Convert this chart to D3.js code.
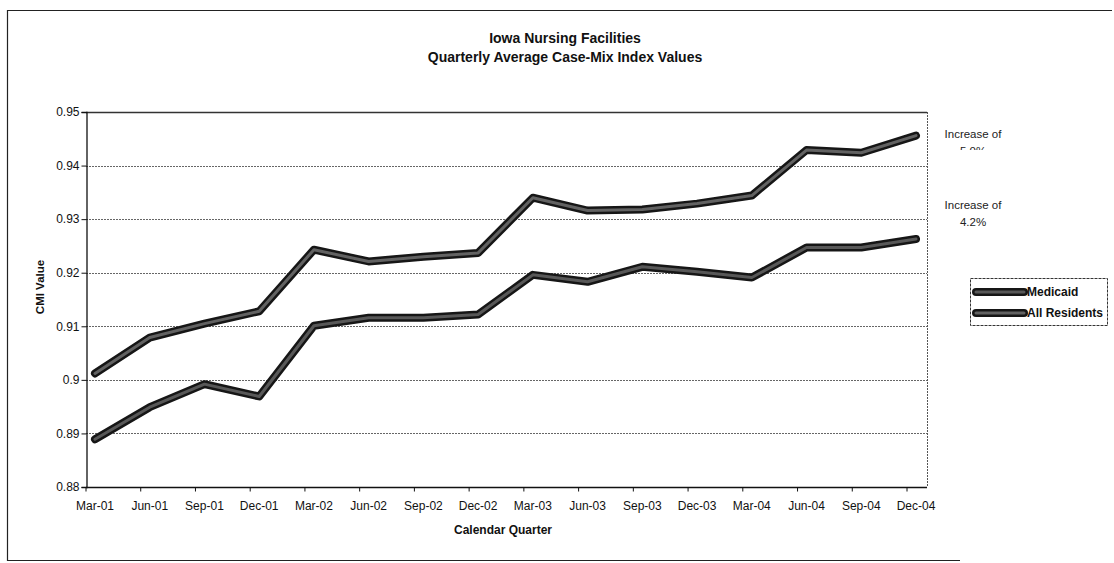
<!DOCTYPE html>
<html>
<head>
<meta charset="utf-8">
<script src="https://cdn.jsdelivr.net/npm/d3@7"></script>
<style>
  html, body { margin: 0; padding: 0; background: #fff; }
  svg { display: block; font-family: Arial, "Liberation Sans", sans-serif; }
</style>
</head>
<body>
<svg id="chart" width="1114" height="563"></svg>
<script>
// Quarterly average case-mix index, Iowa nursing facilities
const quarters = ["Mar-01","Jun-01","Sep-01","Dec-01","Mar-02","Jun-02","Sep-02","Dec-02",
                  "Mar-03","Jun-03","Sep-03","Dec-03","Mar-04","Jun-04","Sep-04","Dec-04"];
const medicaid = [0.8889,0.8949,0.8992,0.8969,0.9101,0.9116,0.9116,0.9122,
                  0.9196,0.9183,0.9211,0.9202,0.9191,0.9247,0.9247,0.9263];
const allResidents = [0.9012,0.9079,0.9105,0.9128,0.9243,0.9221,0.9230,0.9237,
                      0.9340,0.9316,0.9318,0.9329,0.9344,0.9429,0.9424,0.9456];
const yTicks = [0.88,0.89,0.9,0.91,0.92,0.93,0.94,0.95];
const seriesNames = ["Medicaid","All Residents"];
const notes = [["Increase of","5.0%"],["Increase of","4.2%"]];

const svg = d3.select("#chart");
const plot = {left: 86, right: 927, top: 112, bottom: 487};

const x = d3.scalePoint().domain(quarters).range([95, 916]);
const y = d3.scaleLinear().domain([0.88, 0.95]).range([plot.bottom, plot.top]);

// outer frame (top, left, bottom edges)
svg.append("path")
  .attr("d", "M1112,10.5 H7.5 V560.5 H960")
  .attr("fill", "none").attr("stroke", "#222").attr("stroke-width", 1.2);

// title
const title = svg.append("text").attr("text-anchor", "middle")
  .attr("font-weight", "bold").attr("font-size", 14).attr("fill", "#111");
title.append("tspan").attr("x", 565).attr("y", 43).text("Iowa Nursing Facilities");
title.append("tspan").attr("x", 565).attr("y", 62).text("Quarterly Average Case-Mix Index Values");

// gridlines
svg.append("g").selectAll("line").data(yTicks.filter(v => v > 0.88 && v < 0.95)).join("line")
  .attr("x1", plot.left).attr("x2", plot.right)
  .attr("y1", d => Math.round(y(d)) + 0.5).attr("y2", d => Math.round(y(d)) + 0.5)
  .attr("stroke", "#666").attr("stroke-width", 1).attr("stroke-dasharray", "2,1");

// plot border: top solid, right dotted
svg.append("line").attr("x1", plot.left).attr("x2", plot.right)
  .attr("y1", plot.top + 0.5).attr("y2", plot.top + 0.5)
  .attr("stroke", "#333").attr("stroke-width", 1.3);
svg.append("line").attr("x1", plot.right + 0.5).attr("x2", plot.right + 0.5)
  .attr("y1", plot.top).attr("y2", plot.bottom)
  .attr("stroke", "#555").attr("stroke-width", 1).attr("stroke-dasharray", "2,1");

// y axis
const yAxis = d3.axisLeft(y).tickValues(yTicks).tickFormat(d => d3.format("")(+d.toFixed(2))).tickSizeOuter(0).tickSize(5);
const gy = svg.append("g").attr("transform", `translate(${plot.left + 0.5},0)`).call(yAxis);
gy.select(".domain").attr("stroke", "#111").attr("stroke-width", 1.3);
gy.selectAll(".tick line").attr("stroke", "#111");
gy.selectAll(".tick text").attr("font-size", 12).attr("fill", "#111")
  .attr("font-family", "Arial, 'Liberation Sans', sans-serif").attr("x", -7);

// x axis: category labels with ticks on the category boundaries
const gx = svg.append("g").attr("transform", `translate(0,${plot.bottom + 0.5})`);
gx.append("line").attr("x1", plot.left).attr("x2", plot.right)
  .attr("stroke", "#111").attr("stroke-width", 1.3);
gx.selectAll("line.tk").data(quarters).join("line").attr("class", "tk")
  .attr("x1", d => x(d) - 9).attr("x2", d => x(d) - 9)
  .attr("y1", 0).attr("y2", 4).attr("stroke", "#111");
gx.selectAll("text").data(quarters).join("text")
  .attr("x", d => x(d)).attr("y", 22).attr("text-anchor", "middle")
  .attr("font-size", 12).attr("fill", "#111").text(d => d);

// axis titles
svg.append("text").attr("x", 503).attr("y", 534).attr("text-anchor", "middle")
  .attr("font-weight", "bold").attr("font-size", 12).attr("fill", "#111").text("Calendar Quarter");
svg.append("text").attr("transform", "translate(44,287) rotate(-90)").attr("text-anchor", "middle")
  .attr("font-weight", "bold").attr("font-size", 11.5).attr("fill", "#111").text("CMI Value");

// series lines: dark edge with grey core
const line = d3.line().x((d, i) => x(quarters[i])).y(d => y(d));
const series = [medicaid, allResidents];
const cores = ["#585858", "#626262"];
series.forEach((vals, k) => {
  svg.append("path").datum(vals).attr("d", line).attr("fill", "none")
    .attr("stroke", "#161616").attr("stroke-width", 8)
    .attr("stroke-linejoin", "round").attr("stroke-linecap", "round");
  svg.append("path").datum(vals).attr("d", line).attr("fill", "none")
    .attr("stroke", cores[k]).attr("stroke-width", 3)
    .attr("stroke-linejoin", "round").attr("stroke-linecap", "round");
});

// notes to the right of the plot; the first one sits in a box too short for its second line
const clip = svg.append("defs").append("clipPath").attr("id", "noteClip");
clip.append("rect").attr("x", 930).attr("y", 120).attr("width", 120).attr("height", 30);
const noteY = [134, 205];
notes.forEach((n, i) => {
  const t = svg.append("text").attr("text-anchor", "middle").attr("font-size", 11.5).attr("fill", "#222");
  if (i === 0) t.attr("clip-path", "url(#noteClip)");
  t.append("tspan").attr("x", 973).attr("y", noteY[i] + 4).text(n[0]);
  t.append("tspan").attr("x", 973).attr("y", noteY[i] + 21).text(n[1]);
});

// legend
const lg = svg.append("g");
lg.append("rect").attr("x", 970.5).attr("y", 278.5).attr("width", 137).attr("height", 47)
  .attr("fill", "#fff").attr("stroke", "#333").attr("stroke-width", 1).attr("stroke-dasharray", "3,1");
seriesNames.forEach((name, i) => {
  const yy = 292 + i * 21;
  lg.append("line").attr("x1", 976).attr("x2", 1024).attr("y1", yy).attr("y2", yy)
    .attr("stroke", "#161616").attr("stroke-width", 8).attr("stroke-linecap", "round");
  lg.append("line").attr("x1", 976).attr("x2", 1024).attr("y1", yy).attr("y2", yy)
    .attr("stroke", cores[i]).attr("stroke-width", 3).attr("stroke-linecap", "round");
  lg.append("text").attr("x", 1027).attr("y", yy + 4).attr("font-size", 12)
    .attr("font-weight", "bold").attr("fill", "#111").text(name);
});
</script>
</body>
</html>
